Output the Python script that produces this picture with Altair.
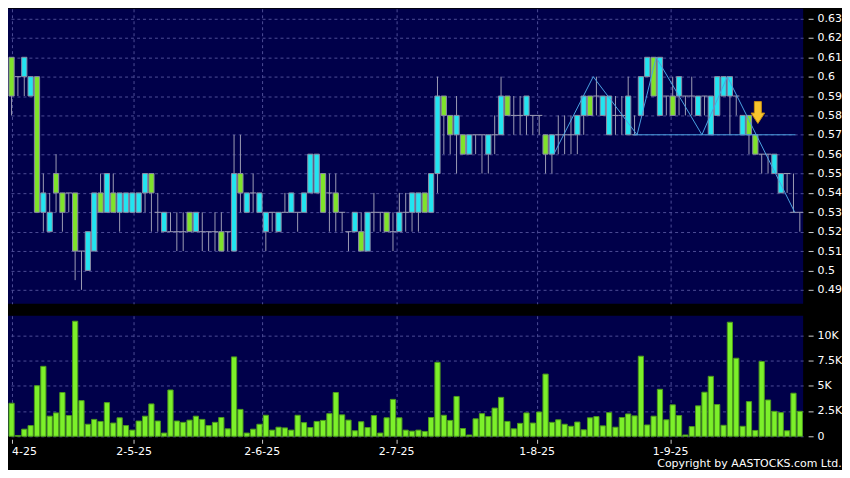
import altair as alt
import pandas as pd

# ---------------- data ----------------
opens = [0.61, 0.60, 0.60, 0.59, 0.60, 0.53, 0.52, 0.55, 0.54, 0.54,
         0.54, 0.51, 0.50, 0.51, 0.54, 0.53, 0.54, 0.53, 0.53, 0.53,
         0.53, 0.54, 0.55, 0.53, 0.52, 0.52, 0.52, 0.52, 0.53, 0.52,
         0.52, 0.52, 0.52, 0.52, 0.52, 0.51, 0.55, 0.53, 0.54, 0.53,
         0.52, 0.53, 0.52, 0.53, 0.53, 0.53, 0.53, 0.54, 0.54, 0.55,
         0.54, 0.54, 0.53, 0.52, 0.52, 0.52, 0.51, 0.53, 0.53, 0.53,
         0.52, 0.52, 0.53, 0.53, 0.53, 0.54, 0.53, 0.55, 0.59, 0.58,
         0.57, 0.57, 0.56, 0.57, 0.57, 0.56, 0.57, 0.57, 0.59, 0.58,
         0.58, 0.58, 0.58, 0.58, 0.57, 0.56, 0.57, 0.57, 0.57, 0.57,
         0.58, 0.59, 0.59, 0.58, 0.57, 0.58, 0.58, 0.57, 0.57, 0.58,
         0.60, 0.61, 0.58, 0.59, 0.59, 0.59, 0.59, 0.59, 0.58, 0.59,
         0.57, 0.58, 0.59, 0.59, 0.59, 0.57, 0.58, 0.57, 0.56, 0.56,
         0.55, 0.54, 0.55, 0.53, 0.53]
highs = [0.61, 0.60, 0.61, 0.60, 0.60, 0.55, 0.54, 0.56, 0.54, 0.54,
         0.54, 0.51, 0.52, 0.54, 0.55, 0.55, 0.55, 0.54, 0.54, 0.54,
         0.54, 0.55, 0.55, 0.54, 0.53, 0.53, 0.53, 0.53, 0.53, 0.53,
         0.53, 0.52, 0.53, 0.53, 0.52, 0.57, 0.57, 0.54, 0.55, 0.54,
         0.53, 0.53, 0.53, 0.54, 0.54, 0.53, 0.54, 0.56, 0.56, 0.55,
         0.55, 0.55, 0.53, 0.52, 0.53, 0.53, 0.53, 0.54, 0.53, 0.53,
         0.53, 0.54, 0.54, 0.54, 0.54, 0.54, 0.55, 0.60, 0.59, 0.58,
         0.59, 0.57, 0.57, 0.57, 0.57, 0.57, 0.58, 0.60, 0.59, 0.59,
         0.59, 0.59, 0.58, 0.58, 0.57, 0.57, 0.58, 0.58, 0.58, 0.58,
         0.59, 0.59, 0.60, 0.59, 0.59, 0.59, 0.59, 0.60, 0.58, 0.60,
         0.61, 0.61, 0.61, 0.59, 0.60, 0.60, 0.59, 0.60, 0.59, 0.59,
         0.59, 0.60, 0.60, 0.60, 0.59, 0.58, 0.58, 0.57, 0.56, 0.56,
         0.56, 0.55, 0.55, 0.55, 0.53]
lows = [0.58, 0.59, 0.59, 0.59, 0.53, 0.52, 0.52, 0.53, 0.52, 0.53,
        0.495, 0.49, 0.50, 0.51, 0.53, 0.53, 0.53, 0.52, 0.53, 0.53,
        0.53, 0.53, 0.52, 0.52, 0.52, 0.52, 0.51, 0.51, 0.52, 0.52,
        0.51, 0.51, 0.51, 0.51, 0.51, 0.51, 0.53, 0.53, 0.53, 0.53,
        0.51, 0.52, 0.52, 0.53, 0.53, 0.52, 0.53, 0.54, 0.54, 0.53,
        0.52, 0.52, 0.52, 0.51, 0.52, 0.51, 0.51, 0.52, 0.52, 0.52,
        0.51, 0.52, 0.52, 0.52, 0.52, 0.53, 0.53, 0.54, 0.56, 0.56,
        0.55, 0.56, 0.56, 0.56, 0.55, 0.55, 0.56, 0.57, 0.58, 0.57,
        0.57, 0.57, 0.57, 0.57, 0.55, 0.55, 0.56, 0.56, 0.56, 0.56,
        0.57, 0.58, 0.58, 0.58, 0.57, 0.57, 0.57, 0.57, 0.57, 0.58,
        0.60, 0.59, 0.58, 0.58, 0.58, 0.58, 0.58, 0.58, 0.58, 0.58,
        0.57, 0.58, 0.59, 0.57, 0.58, 0.57, 0.56, 0.56, 0.55, 0.55,
        0.55, 0.54, 0.54, 0.53, 0.52]
closes = [0.59, 0.60, 0.61, 0.60, 0.53, 0.54, 0.53, 0.54, 0.53, 0.54,
          0.51, 0.51, 0.52, 0.54, 0.53, 0.55, 0.53, 0.54, 0.54, 0.54,
          0.54, 0.55, 0.54, 0.53, 0.53, 0.52, 0.52, 0.52, 0.52, 0.53,
          0.52, 0.52, 0.52, 0.51, 0.52, 0.55, 0.54, 0.54, 0.54, 0.54,
          0.53, 0.53, 0.53, 0.53, 0.54, 0.53, 0.54, 0.56, 0.56, 0.53,
          0.54, 0.53, 0.53, 0.52, 0.53, 0.51, 0.53, 0.53, 0.53, 0.52,
          0.52, 0.53, 0.53, 0.54, 0.54, 0.53, 0.55, 0.59, 0.58, 0.57,
          0.58, 0.56, 0.57, 0.57, 0.57, 0.57, 0.57, 0.59, 0.58, 0.58,
          0.58, 0.59, 0.58, 0.58, 0.56, 0.57, 0.57, 0.57, 0.57, 0.58,
          0.59, 0.58, 0.59, 0.59, 0.59, 0.58, 0.58, 0.59, 0.57, 0.60,
          0.61, 0.59, 0.61, 0.59, 0.58, 0.60, 0.59, 0.59, 0.59, 0.59,
          0.59, 0.60, 0.60, 0.60, 0.59, 0.58, 0.57, 0.56, 0.56, 0.56,
          0.56, 0.55, 0.55, 0.53, 0.53]
volumes = [3270, 80, 705, 1058, 5000, 6920, 1990, 2310, 4330, 2050,
           11380, 3530, 1190, 1670, 1470, 3330, 1310, 1830, 1060, 610,
           1510, 1990, 3200, 1510, 320, 4580, 1510, 1380, 1600, 1990,
           1670, 1060, 1380, 1860, 740, 7850, 2660, 320, 705, 1190,
           2080, 610, 900, 830, 610, 2080, 1350, 865, 1470, 1570,
           2240, 4330, 2120, 1600, 545, 1440, 865, 2050, 320, 1830,
           3650, 1830, 610, 510, 610, 480, 1860, 7310, 2080, 1570,
           3940, 770, 130, 1730, 2240, 1950, 2790, 3850, 1470, 740,
           1280, 2310, 1310, 2400, 6150, 1380, 1630, 1190, 990, 1410,
           640, 1830, 1950, 1030, 2340, 900, 1860, 2210, 2020, 7920,
           1120, 1990, 4650, 1630, 3110, 2050, 130, 960, 3010, 4360,
           5930, 3140, 1090, 11280, 7720, 990, 3430, 580, 7400, 3590,
           2470, 2340, 545, 4260, 2470]

price_ticks = [0.49, 0.50, 0.51, 0.52, 0.53, 0.54, 0.55, 0.56, 0.57, 0.58,
               0.59, 0.60, 0.61, 0.62, 0.63]
vol_ticks = [0, 2500, 5000, 7500, 10000]
date_labels = ["4-25", "2-5-25", "2-6-25", "2-7-25", "1-8-25", "1-9-25"]
date_pos = [1.0, 20.2, 40.35, 61.5, 83.6, 104.6]

zig_x = [86.3, 92.5, 99.4, 102.4, 109.6, 113.6, 124.2]
zig_y = [0.56, 0.60, 0.57, 0.61, 0.57, 0.60, 0.53]
support_x = [98.8, 124.3]
support_y = [0.57, 0.57]
arrow_x = [118.4]
arrow_y = [0.5815]
copyright_text = "Copyright by AASTOCKS.com Ltd."

# ---------------- styling ----------------
NAVY = "#00004a"
CYAN = "#22e4f0"
GREEN = "#7fe32a"
BODY_STROKE = "#8c8ca6"
WICK = "#9c9cb4"
GRID = "#4c4c96"
VGREEN = "#7cf02a"
VSTROKE = "#4c9a1c"
TREND = "#4aa2e2"
FONT = "DejaVu Sans"

W, HP, HV = 798, 296, 121

df = pd.DataFrame({
    "i": list(range(1, len(opens) + 1)),
    "o": opens, "h": highs, "l": lows, "c": closes, "v": volumes,
})

xscale = alt.Scale(domain=[0.44, 125.52], nice=False, zero=False)
pscale = alt.Scale(domain=[0.4828, 0.635], nice=False, zero=False)
vscale = alt.Scale(domain=[0, 11923], nice=False, zero=False)

grid_style = dict(grid=True, gridColor=GRID, gridDash=[3, 3], gridWidth=1)

x_price_axis = alt.Axis(values=date_pos, labels=False, ticks=False, domain=False,
                        title=None, **grid_style)
y_price_axis = alt.Axis(orient="right", values=price_ticks, format=".2~f",
                        domain=False, tickColor="#d0d0d0", tickSize=5, offset=5,
                        labelPadding=4, title=None, **grid_style)

label_expr = " : ".join(
    f"abs(datum.value - {p}) < 0.01 ? '{t}'" for p, t in zip(date_pos, date_labels)
) + " : ''"
x_vol_axis = alt.Axis(values=date_pos, labelExpr=label_expr, domain=False,
                      tickColor="#d0d0d0", tickSize=4, offset=3, labelPadding=2,
                      labelFlush=10, title=None, **grid_style)
y_vol_axis = alt.Axis(orient="right", values=vol_ticks,
                      labelExpr="datum.value == 0 ? '0' : format(datum.value / 1000, '~g') + 'K'",
                      domain=False, tickColor="#d0d0d0", tickSize=5, offset=5,
                      labelPadding=4, title=None, **grid_style)

base = alt.Chart(df).transform_calculate(
    x1="datum.i - 0.41", x2="datum.i + 0.41",
    d1="datum.i - 0.5", d2="datum.i + 0.5", zero="0",
    kind="datum.c > datum.o ? 'up' : (datum.c < datum.o ? 'down' : 'flat')",
)

wicks = base.mark_rule(color=WICK, strokeWidth=1).encode(
    x=alt.X("i:Q", scale=xscale, axis=x_price_axis),
    y=alt.Y("l:Q", scale=pscale, axis=y_price_axis),
    y2="h:Q",
)
bodies = base.transform_filter("datum.kind != 'flat'").mark_bar(
    stroke=BODY_STROKE, strokeWidth=1
).encode(
    x=alt.X("x1:Q", scale=xscale, axis=x_price_axis), x2="x2:Q",
    y=alt.Y("o:Q", scale=pscale, axis=y_price_axis), y2="c:Q",
    fill=alt.Fill("kind:N", scale=alt.Scale(domain=["up", "down"], range=[CYAN, GREEN]),
                  legend=None),
)
dojis = base.transform_filter("datum.kind == 'flat'").mark_rule(
    color=WICK, strokeWidth=1
).encode(
    x=alt.X("d1:Q", scale=xscale, axis=x_price_axis), x2="d2:Q",
    y=alt.Y("o:Q", scale=pscale, axis=y_price_axis),
)

zig_df = pd.DataFrame({"x": zig_x, "y": zig_y, "k": list(range(len(zig_x)))})
zig = alt.Chart(zig_df).mark_line(color=TREND, strokeWidth=1).encode(
    x=alt.X("x:Q", scale=xscale, axis=x_price_axis),
    y=alt.Y("y:Q", scale=pscale, axis=y_price_axis),
    order="k:Q",
)
sup_df = pd.DataFrame({"x": support_x, "y": support_y})
support = alt.Chart(sup_df).mark_line(color=TREND, strokeWidth=1).encode(
    x=alt.X("x:Q", scale=xscale, axis=x_price_axis),
    y=alt.Y("y:Q", scale=pscale, axis=y_price_axis),
)
ARROW = "M-0.32,-1 L0.32,-1 L0.32,0.05 L0.62,0.05 L0,1 L-0.62,0.05 L-0.32,0.05 Z"
arr_df = pd.DataFrame({"x": arrow_x, "y": arrow_y})
arrow = alt.Chart(arr_df).mark_point(
    shape=ARROW, size=480, filled=True, fill="#f7c52e", stroke="#c98f12",
    strokeWidth=1, opacity=1,
).encode(
    x=alt.X("x:Q", scale=xscale, axis=x_price_axis),
    y=alt.Y("y:Q", scale=pscale, axis=y_price_axis),
)

price = alt.layer(wicks, bodies, dojis, zig, support, arrow).properties(width=W, height=HP)

vol = base.mark_bar(fill=VGREEN, stroke=VSTROKE, strokeWidth=1).encode(
    x=alt.X("x1:Q", scale=xscale, axis=x_vol_axis), x2="x2:Q",
    y=alt.Y("v:Q", scale=vscale, axis=y_vol_axis), y2="zero:Q",
).properties(width=W, height=HV)

chart = alt.vconcat(price, vol, spacing=12).properties(
    padding=0,
    background="black",
    title=alt.TitleParams(copyright_text, orient="bottom", anchor="end",
                          fontSize=11, color="white", font=FONT,
                          fontWeight="normal", offset=2),
).configure_view(fill=NAVY, stroke=None).configure_axis(
    labelFont=FONT, labelFontSize=11, labelColor="white",
).resolve_scale(x="independent")

chart.save("out.html", embed_options={"renderer": "svg", "actions": False})
